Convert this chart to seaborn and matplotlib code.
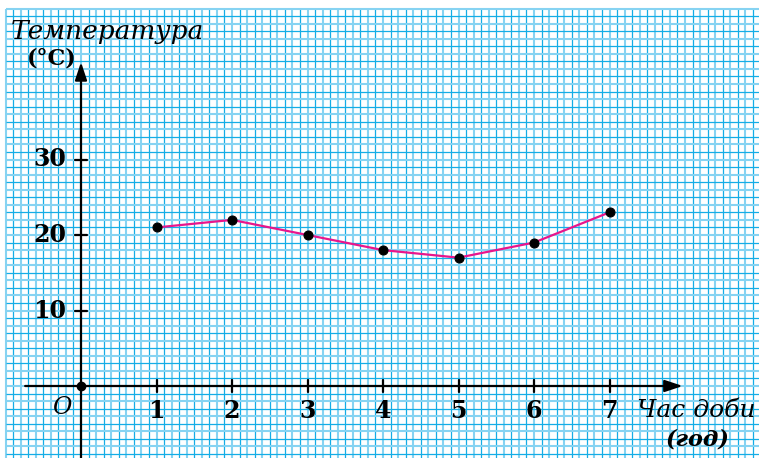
import numpy as np
import matplotlib
matplotlib.use("Agg")
import matplotlib.pyplot as plt
import seaborn as sns

# Time of day (hours) and temperature readings (°C)
hours = [1, 2, 3, 4, 5, 6, 7]
temps = [21, 22, 20, 18, 17, 19, 23]
x_ticks = [1, 2, 3, 4, 5, 6, 7]
y_ticks = [10, 20, 30]

sns.set_theme(style="white")
plt.rcParams["font.family"] = ["DejaVu Serif", "Liberation Serif"]
plt.rcParams["text.color"] = "black"

W, H = 759, 458
fig = plt.figure(figsize=(W / 100, H / 100), dpi=100)
ax = fig.add_axes([0, 0, 1, 1])
ax.set_axis_off()

# pixel geometry of the graph paper
x0_px, y0_px, unit_x, unit_y = 81, 386, 75.5, 7.55
xmin, xmax = (0 - x0_px) / unit_x, (W - x0_px) / unit_x
ymin, ymax = (y0_px - H) / unit_y, (y0_px - 0) / unit_y
ax.set_xlim(xmin, xmax)
ax.set_ylim(ymin, ymax)

# graph paper: thin dark lines alternating with wider light lines
dark, light = "#14ade6", "#86d3f2"
gx = np.arange(-10, 90) / 10.0
gy = np.arange(-9, 51)
gx_top = 50.0
gy_left = -1.0
for xv in gx:
    odd = int(round(xv * 10)) % 2 != 0
    ax.vlines(xv, ymin, gx_top, color=dark if odd else light,
              lw=0.9 if odd else 1.5, zorder=1)
for yv in gy:
    odd = int(yv) % 2 != 0
    ax.hlines(yv, gy_left, xmax, color=dark if odd else light,
              lw=0.9 if odd else 1.5, zorder=1)

# coordinate axes with arrows
arrow = dict(arrowstyle="-|>,head_length=0.9,head_width=0.3", color="black",
             lw=1.6, shrinkA=0, shrinkB=0)
ax.annotate("", xy=(7.97, 0), xytext=(-0.74, 0), arrowprops=arrow, zorder=5)
ax.annotate("", xy=(0, 42.9), xytext=(0, ymin), arrowprops=arrow, zorder=5)

# tick marks
for t in x_ticks:
    ax.plot([t, t], [-0.8, 0.8], color="black", lw=1.6, zorder=5)
for t in y_ticks:
    ax.plot([-0.08, 0.08], [t, t], color="black", lw=1.6, zorder=5)
ax.plot([0], [0], "o", color="black", ms=6, zorder=6)

# temperature curve
sns.lineplot(x=hours, y=temps, ax=ax, color="#e8168c", lw=1.6,
             marker="o", markersize=6.5, markerfacecolor="black",
             markeredgecolor="black", zorder=7)

# tick labels
fs = 17
for t in x_ticks:
    ax.text(t, -3.3, str(t), ha="center", va="center", fontsize=fs,
            fontweight="bold", color="black", zorder=8)
for t in y_ticks:
    ax.text(-0.2, t, str(t), ha="right", va="center", fontsize=fs,
            fontweight="bold", color="black", zorder=8)
ax.text(-0.25, -2.8, "O", ha="center", va="center", fontsize=fs,
        fontstyle="italic", color="black", zorder=8)

# axis titles
ax.text(-0.93, 46.9, "Температура", ha="left", va="center", fontsize=19,
        fontstyle="italic", color="black", zorder=8)
ax.text(-0.72, 43.4, "(°C)", ha="left", va="center", fontsize=16,
        fontweight="bold", color="black", zorder=8)
ax.text(7.36, -3.2, "Час доби", ha="left", va="center", fontsize=18,
        fontstyle="italic", color="black", zorder=8)
ax.text(8.16, -7.1, "(год)", ha="center", va="center", fontsize=16,
        fontstyle="italic", fontweight="bold", color="black", zorder=8)

fig.savefig("out.png", dpi=100, facecolor="white")
